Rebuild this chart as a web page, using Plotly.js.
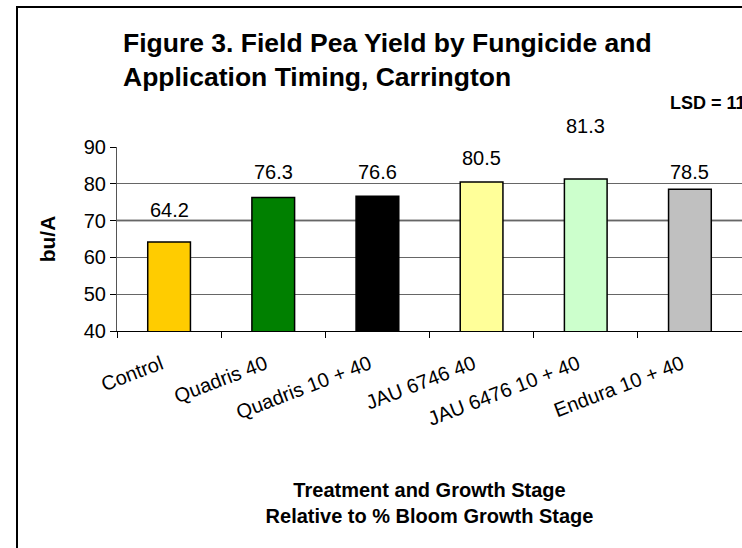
<!DOCTYPE html>
<html>
<head>
<meta charset="utf-8">
<script src="https://cdn.plot.ly/plotly-3.0.1.min.js"></script>
<style>
  html, body { margin: 0; padding: 0; overflow: hidden; background: #fff; }
  #chart { width: 742px; height: 548px; }
</style>
</head>
<body>
<div id="chart"></div>
<script>
var categories = ["Control", "Quadris 40", "Quadris 10 + 40", "JAU 6746 40", "JAU 6476 10 + 40", "Endura 10 + 40"];
var yieldValues = [64.2, 76.3, 76.6, 80.5, 81.3, 78.5];
var yTicks = [40, 50, 60, 70, 80, 90];
var titleText = "Figure 3. Field Pea Yield by Fungicide and<br>Application Timing, Carrington";
var xTitleText = "Treatment and Growth Stage<br>Relative to % Bloom Growth Stage";
var yTitleText = "bu/A";
var lsdText = "LSD = 11";

var barColors = ["#FFCC00", "#008000", "#000000", "#FFFF99", "#CCFFCC", "#C0C0C0"];
var labelShift = [32, 25, 24, 24, 53, 17];
var FONT = "Liberation Sans, Arial, sans-serif";

var trace = {
  type: "bar",
  x: categories,
  y: yieldValues,
  marker: { color: barColors, line: { color: "#000000", width: 1.5 } },
  hoverinfo: "x+y"
};

var annotations = categories.map(function (c, i) {
  return {
    x: c, y: yieldValues[i], xref: "x", yref: "y",
    text: yieldValues[i].toFixed(1),
    showarrow: false, yanchor: "middle", yshift: labelShift[i],
    font: { family: FONT, size: 20, color: "#000" }
  };
});
annotations.push({
  xref: "paper", yref: "paper",
  x: (668 - 117) / 625, y: (331 - 103) / 184,
  xanchor: "left", yanchor: "middle",
  text: "<b>" + lsdText + "</b>", showarrow: false,
  font: { family: FONT, size: 18, color: "#000" }
});

var layout = {
  width: 742, height: 548,
  margin: { l: 117, r: 0, t: 147, b: 217, pad: 0 },
  paper_bgcolor: "#ffffff",
  plot_bgcolor: "#ffffff",
  showlegend: false,
  bargap: 0.59,
  font: { family: FONT, color: "#000" },
  title: {
    text: "<b>" + titleText + "</b>",
    xref: "container", yref: "container",
    x: 123 / 742, xanchor: "left",
    y: 1 - 52 / 548, yanchor: "top",
    font: { family: FONT, size: 26.5, color: "#000" }
  },
  xaxis: {
    type: "category",
    tickangle: -21,
    tickson: "boundaries",
    ticks: "outside", ticklen: 6, tickcolor: "#000", tickwidth: 1,
    ticklabelstandoff: 13,
    ticklabelshift: -8,
    showline: true, linecolor: "#000", linewidth: 1,
    showgrid: false,
    tickfont: { family: FONT, size: 20, color: "#000" },
    title: {
      text: "<b>" + xTitleText + "</b>",
      font: { family: FONT, size: 20, color: "#000" },
      standoff: 54
    },
    automargin: false,
    fixedrange: true
  },
  yaxis: {
    range: [40, 90],
    tickvals: yTicks,
    ticks: "outside", ticklen: 6, tickcolor: "#000", tickwidth: 1,
    showline: true, linecolor: "#555", linewidth: 1,
    showgrid: true, gridcolor: "#666", gridwidth: 1,
    zeroline: false,
    tickfont: { family: FONT, size: 20, color: "#000" },
    title: {
      text: "<b>" + yTitleText + "</b>",
      font: { family: FONT, size: 21, color: "#000" },
      standoff: 22
    },
    automargin: false,
    fixedrange: true
  },
  annotations: annotations,
  shapes: [
    {
      type: "rect", xref: "paper", yref: "paper",
      x0: (17 - 117) / 625, x1: 1.3,
      y0: -2, y1: (331 - 7) / 184,
      line: { color: "#000", width: 2 }, fillcolor: "rgba(0,0,0,0)", layer: "below"
    },
    {
      type: "line", xref: "paper", yref: "y",
      x0: 0, x1: 1, y0: 70, y1: 70,
      line: { color: "#000", width: 1.5 }, layer: "below"
    }
  ]
};

Plotly.newPlot("chart", [trace], layout, { displayModeBar: false, staticPlot: true });
</script>
</body>
</html>
